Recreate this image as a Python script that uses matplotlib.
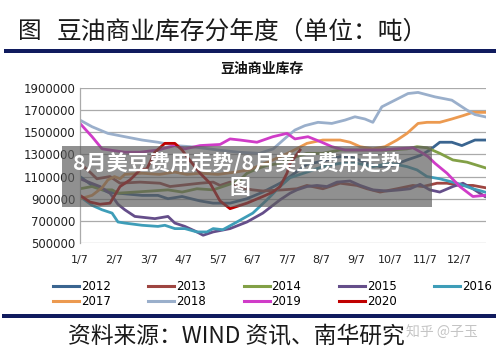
import numpy as np
import matplotlib
matplotlib.use("Agg")
from matplotlib import pyplot as plt
from matplotlib.patches import Rectangle
from matplotlib.lines import Line2D

W, H = 496, 353

months = ['1/7', '2/7', '3/7', '4/7', '5/7', '6/7', '7/7', '8/7', '9/7', '10/7', '11/7', '12/7']
yticks = [500000, 700000, 900000, 1100000, 1300000, 1500000, 1700000, 1900000]

# x in months after 1/7, values in 10k tonnes
x_2012 = [0, 0.35, 0.81, 1.1, 1.8, 2.26, 2.55, 2.96, 3.48, 3.86, 4.35, 4.84, 5.3, 5.8, 6.09, 6.58, 7.04, 7.54, 7.83, 8.32, 8.7, 9.07, 9.48, 9.86, 10.14, 10.43, 10.78, 11.07, 11.45, 11.74]
v_2012 = [110, 102, 96, 95, 93, 93, 90, 92, 88, 86, 86, 90, 96, 104, 110, 121, 124, 128, 128, 122, 119, 120, 125, 129, 134, 141, 141, 138, 143, 143]

x_2013 = [0, 0.29, 0.49, 0.87, 1.16, 1.74, 2.32, 2.61, 2.9, 3.48, 3.86, 4.06, 4.35, 4.64, 5.0, 5.3, 5.88, 6.29, 6.58, 7.04, 7.54, 8.03, 8.32, 8.7, 9.19, 9.65, 9.94, 10.35, 10.64, 11.01, 11.39, 11.74]
v_2013 = [122, 114, 108, 110, 104, 105, 104, 101, 102, 104, 105, 102, 105, 100, 98, 97, 98, 99, 102, 99, 104, 102, 99, 96, 99, 102, 101, 104, 104, 102, 102, 100]

x_2014 = [0, 0.35, 0.64, 0.93, 1.1, 1.59, 2.09, 2.55, 2.96, 3.39, 3.86, 4.14, 4.43, 4.64, 4.84, 5.13, 5.42, 5.8, 6.09, 6.58, 7.04, 7.54, 8.03, 8.49, 9.0, 9.48, 9.77, 10.06, 10.43, 10.81, 11.22, 11.74]
v_2014 = [99, 101, 98, 98, 95, 96, 97, 98, 96, 99, 98, 101, 104, 107, 113, 117, 120, 122, 126, 131, 131, 134, 134, 134, 134, 135, 137, 136, 131, 125, 123, 118]

x_2015 = [0, 0.58, 0.87, 1.1, 1.3, 1.59, 2.17, 2.55, 2.75, 3.04, 3.39, 3.57, 3.86, 4.35, 4.84, 5.3, 5.59, 5.8, 6.09, 6.29, 6.58, 6.87, 7.16, 7.45, 7.83, 8.12, 8.49, 8.9, 9.28, 9.57, 9.86, 10.14, 10.43, 10.81, 11.1, 11.39, 11.74]
v_2015 = [108, 101, 95, 85, 80, 74, 72, 74, 68, 65, 60, 57, 60, 63, 69, 77, 84, 89, 95, 98, 101, 102, 101, 105, 106, 102, 98, 97, 98, 99, 103, 98, 96, 101, 104, 99, 92]

x_2016 = [0, 0.35, 0.64, 0.93, 1.1, 1.3, 1.8, 2.26, 2.46, 2.75, 3.04, 3.39, 3.68, 3.86, 4.14, 4.55, 5.01, 5.42, 5.8, 6.09, 6.58, 7.04, 7.54, 8.03, 8.49, 8.99, 9.48, 9.77, 10.06, 10.43, 10.93, 11.39, 11.74]
v_2016 = [92, 84, 80, 77, 69, 68, 66, 65, 66, 63, 63, 60, 60, 63, 62, 69, 77, 89, 101, 109, 114, 119, 122, 122, 119, 122, 119, 116, 110, 108, 104, 99, 96]

x_2017 = [0, 0.35, 0.64, 0.81, 1.0, 1.16, 1.3, 1.8, 2.3, 2.75, 3.1, 3.5, 4.0, 4.5, 4.9, 5.59, 6.09, 6.58, 7.04, 7.54, 7.83, 8.12, 8.49, 8.84, 9.19, 9.48, 9.8, 10.06, 10.43, 10.78, 11.1, 11.39, 11.74]
v_2017 = [90, 93, 100, 107, 110, 108, 112, 113, 112, 114, 112, 113, 112, 114, 116, 125, 132, 140, 143, 143, 141, 137, 135, 137, 143, 149, 158, 159, 159, 162, 165, 168, 168]

x_2018 = [0, 0.35, 0.81, 1.3, 1.8, 2.26, 2.75, 3.2, 3.5, 4.0, 4.6, 5.2, 5.6, 6.0, 6.23, 6.52, 6.9, 7.3, 7.68, 7.97, 8.26, 8.49, 8.75, 9.13, 9.51, 9.8, 10.29, 10.78, 11.22, 11.45, 11.74]
v_2018 = [161, 155, 149, 146, 143, 141, 138, 137, 136, 134, 132, 131, 135, 146, 152, 156, 159, 158, 161, 164, 162, 159, 173, 179, 185, 186, 182, 179, 170, 166, 164]

x_2019 = [0, 0.35, 0.64, 1.3, 1.74, 2.26, 2.75, 3.04, 3.48, 4.06, 4.35, 4.64, 5.13, 5.59, 6.0, 6.23, 6.61, 7.01, 7.3, 7.68, 8.17, 8.75, 9.13, 9.65, 9.94, 10.09, 10.29, 10.64, 11.01, 11.39, 11.74]
v_2019 = [158, 146, 135, 132, 132, 134, 138, 135, 138, 139, 144, 143, 141, 146, 149, 144, 146, 141, 137, 134, 134, 134, 135, 136, 131, 128, 122, 113, 101, 92, 93]

x_2020 = [0, 0.29, 0.58, 0.87, 1.16, 1.45, 1.74, 1.94, 2.17, 2.46, 2.75, 2.96, 3.1, 3.48, 3.77, 4.06, 4.35, 4.84, 5.3, 5.59, 5.8, 6.0, 6.09, 6.38]
v_2020 = [93, 87, 85, 86, 101, 107, 116, 117, 132, 140, 140, 134, 128, 113, 104, 88, 81, 86, 92, 96, 101, 113, 122, 134]

series = [
    ('2012', x_2012, v_2012, '#3A6590'),
    ('2013', x_2013, v_2013, '#9E4541'),
    ('2014', x_2014, v_2014, '#82A046'),
    ('2015', x_2015, v_2015, '#654E8A'),
    ('2016', x_2016, v_2016, '#3E9DB8'),
    ('2017', x_2017, v_2017, '#EC9A50'),
    ('2018', x_2018, v_2018, '#9AAFCB'),
    ('2019', x_2019, v_2019, '#D03CC8'),
    ('2020', x_2020, v_2020, '#C00000'),
]

cjk = ['Noto Sans CJK SC', 'DejaVu Sans']


def fx(px):
    return px / W


def fy(py):
    return 1 - py / H


fig = plt.figure(figsize=(W / 100, H / 100), dpi=100)
ax = fig.add_axes([fx(80), fy(243), fx(486) - fx(80), fy(88) - fy(243)])

for name, xs, vs, col in series:
    ax.plot(xs, np.array(vs) * 10000, color=col, lw=2.0, solid_joinstyle='round')

ax.set_xlim(0, 11.77)
ax.set_ylim(500000, 1900000)
ax.set_yticks(yticks)
ax.set_yticklabels([str(v) for v in yticks], fontsize=8.5)
ax.set_xticks(np.arange(12))
ax.set_xticklabels(months, fontsize=8)
ax.tick_params(axis='both', length=0, colors='#222222')
ax.tick_params(axis='y', pad=3)
ax.tick_params(axis='x', pad=9)
ax.grid(axis='y', color='#AAAAAA', lw=0.9)
ax.set_axisbelow(True)
for s in ['top', 'right', 'bottom']:
    ax.spines[s].set_visible(False)
ax.spines['left'].set_color('#AAAAAA')
ax.spines['left'].set_linewidth(0.9)

handles = [Line2D([], [], color=c, lw=2.2) for _, _, _, c in series]
labels = [n for n, _, _, _ in series]
# fill legend row-wise (5 per row)
order = [0, 5, 1, 6, 2, 7, 3, 8, 4]
fig.legend([handles[i] for i in order], [labels[i] for i in order], ncol=5,
           loc='upper left', bbox_to_anchor=(fx(53), fy(280)), frameon=False,
           fontsize=8.5, handlelength=2.2, handletextpad=0.15, columnspacing=3.2,
           labelspacing=0.2, borderpad=0, borderaxespad=0)

# titles and rules
fig.text(fx(18), fy(32), '图', family=cjk, fontsize=17, va='center', color='#1A1A1A')
fig.text(fx(57), fy(32), '豆油商业库存分年度（单位：吨）', family=cjk, fontsize=17.8,
         va='center', color='#1A1A1A')
fig.add_artist(Rectangle((fx(4), fy(53)), 1, 4 / H, transform=fig.transFigure,
                         color='#101B5E', lw=0))
fig.text(fx(262), fy(69), '豆油商业库存', family=cjk, fontsize=10, fontweight='bold',
         ha='center', va='center', color='#111111')
fig.add_artist(Rectangle((fx(2), fy(318)), 1, 4 / H, transform=fig.transFigure,
                         color='#101B5E', lw=0))
fig.text(fx(68), fy(336), '资料来源：WIND 资讯、南华研究', family=cjk, fontsize=16.4,
         va='center', color='#1A1A1A')
fig.text(fx(406), fy(333), '知乎 @子玉', family=cjk, fontsize=10, va='center',
         color='#C4C4C4')

# grey overlay banner
fig.add_artist(Rectangle((fx(62), fy(207)), fx(432) - fx(62), (207 - 146) / H,
                         transform=fig.transFigure, facecolor='#5C5C5C', alpha=0.68,
                         lw=0, zorder=5))
fig.text(fx(73), fy(163.5), '8月美豆费用走势/8月美豆费用走势', family=cjk, fontsize=15.2,
         fontweight='bold', color='white', va='center', zorder=6)
fig.text(fx(240), fy(188), '图', family=cjk, fontsize=15, fontweight='bold',
         color='white', va='center', ha='center', zorder=6)

fig.savefig('out.png', dpi=100)
